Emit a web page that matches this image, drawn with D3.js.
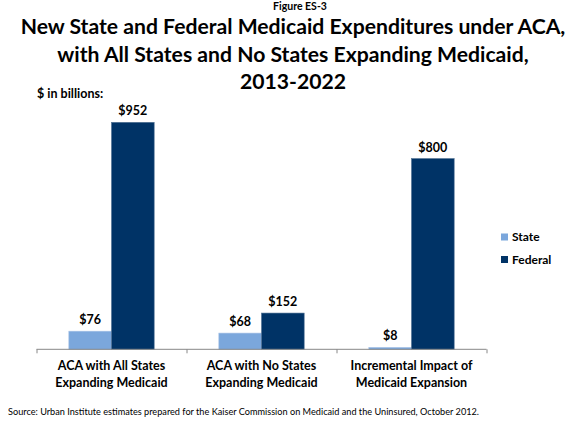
<!DOCTYPE html>
<html>
<head>
<meta charset="utf-8">
<script src="https://cdn.jsdelivr.net/npm/d3@7"></script>
<style>
  html, body { margin: 0; padding: 0; background: #fff; }
  svg { display: block; font-family: Lato, "Open Sans", sans-serif; }
</style>
</head>
<body>
<svg id="chart" width="582" height="434"></svg>
<script>
const categories = [
  ["ACA with All States", "Expanding Medicaid"],
  ["ACA with No States", "Expanding Medicaid"],
  ["Incremental Impact of", "Medicaid Expansion"]
];
const seriesNames = ["State", "Federal"];
const stateValues = [76, 68, 8];
const federalValues = [952, 152, 800];
const valueLabels = [["$76", "$952"], ["$68", "$152"], ["$8", "$800"]];
const titleLines = [
  "New State and Federal Medicaid Expenditures under ACA,",
  "with All States and No States Expanding Medicaid,",
  "2013-2022"
];
const colors = ["#7ba7dc", "#003366"];

const svg = d3.select("#chart");

function fitFont(sel, targetWidth, baseSize) {
  const w = sel.node().getComputedTextLength();
  return baseSize * targetWidth / w;
}

// Figure label
svg.append("text").attr("x", 300).attr("y", 10).attr("text-anchor", "middle")
  .attr("font-weight", 700).attr("font-size", 10.5).attr("fill", "#000").text("Figure ES-3");

// Title
const t0 = svg.append("text").attr("x", 293).attr("y", 33.5).attr("text-anchor", "middle")
  .attr("font-weight", 700).attr("font-size", 20).attr("fill", "#000").text(titleLines[0]);
const titleSize = fitFont(t0, 545, 20);
t0.attr("font-size", titleSize);
svg.append("text").attr("x", 293).attr("y", 61.5).attr("text-anchor", "middle")
  .attr("font-weight", 700).attr("font-size", titleSize).attr("fill", "#000").text(titleLines[1]);
svg.append("text").attr("x", 293).attr("y", 89).attr("text-anchor", "middle")
  .attr("font-weight", 700).attr("font-size", titleSize).attr("fill", "#000").text(titleLines[2]);

svg.append("text").attr("x", 37).attr("y", 97.5).attr("font-weight", 700).attr("font-size", 12.5)
  .attr("fill", "#000").text("$ in billions:");

// Scales
const baseline = 349.3;
const x0 = d3.scaleBand().domain(d3.range(categories.length)).range([36.5, 486.5])
  .paddingInner(0.431).paddingOuter(0.2155);
const x1 = d3.scaleBand().domain(seriesNames).range([0, x0.bandwidth()]);
const y = d3.scaleLinear().domain([0, 1000]).range([baseline, baseline - 238.4]);

const data = categories.map((c, i) => ({ i, vals: [stateValues[i], federalValues[i]] }));

const g = svg.append("g");
const groups = g.selectAll("g.grp").data(data).join("g")
  .attr("transform", d => `translate(${x0(d.i)},0)`);
groups.selectAll("rect").data(d => d.vals.map((v, k) => ({ v, k }))).join("rect")
  .attr("x", d => x1(seriesNames[d.k]))
  .attr("y", d => y(d.v))
  .attr("width", x1.bandwidth())
  .attr("height", d => baseline - y(d.v))
  .attr("fill", d => colors[d.k])
  .attr("stroke", d => d.k === 0 ? "#a9c3e6" : "#4d6f91")
  .attr("stroke-width", 0.6);
groups.selectAll("text.val").data(d => d.vals.map((v, k) => ({ v, k, lab: valueLabels[d.i][k] }))).join("text")
  .attr("class", "val")
  .attr("x", d => x1(seriesNames[d.k]) + x1.bandwidth() / 2)
  .attr("y", d => y(d.v) - 7)
  .attr("text-anchor", "middle").attr("font-weight", 700).attr("font-size", 12.5)
  .attr("fill", "#000").text(d => d.lab);

// Axis
const axisScale = d3.scaleLinear().domain([0, 3]).range([36.5, 486.5]);
const axis = d3.axisBottom(axisScale).tickValues([0, 1, 2, 3]).tickSize(4).tickFormat("");
const ag = svg.append("g").attr("transform", `translate(0,${baseline})`).call(axis);
ag.select(".domain").attr("stroke", "#888").attr("d", "M36.5,0H486.5");
ag.selectAll(".tick line").attr("stroke", "#888");

// Category labels
categories.forEach((lines, i) => {
  const cx = x0(i) + x0.bandwidth() / 2;
  lines.forEach((ln, j) => {
    svg.append("text").attr("x", cx).attr("y", 370 + j * 16.7).attr("text-anchor", "middle")
      .attr("font-weight", 700).attr("font-size", 12.5).attr("fill", "#000").text(ln);
  });
});

// Legend
seriesNames.forEach((s, k) => {
  const cy = 237 + k * 22.5;
  svg.append("rect").attr("x", 501).attr("y", cy - 3.5).attr("width", 7).attr("height", 7).attr("fill", colors[k]);
  svg.append("text").attr("x", 512).attr("y", cy + 4.3).attr("font-weight", 700).attr("font-size", 12)
    .attr("fill", "#000").text(s);
});

// Source
const src = svg.append("text").attr("x", 8).attr("y", 415).attr("font-size", 9).attr("fill", "#000")
  .text("Source: Urban Institute estimates prepared for the Kaiser Commission on Medicaid and the Uninsured, October 2012.");
src.attr("font-size", fitFont(src, 472, 9));
</script>
</body>
</html>
